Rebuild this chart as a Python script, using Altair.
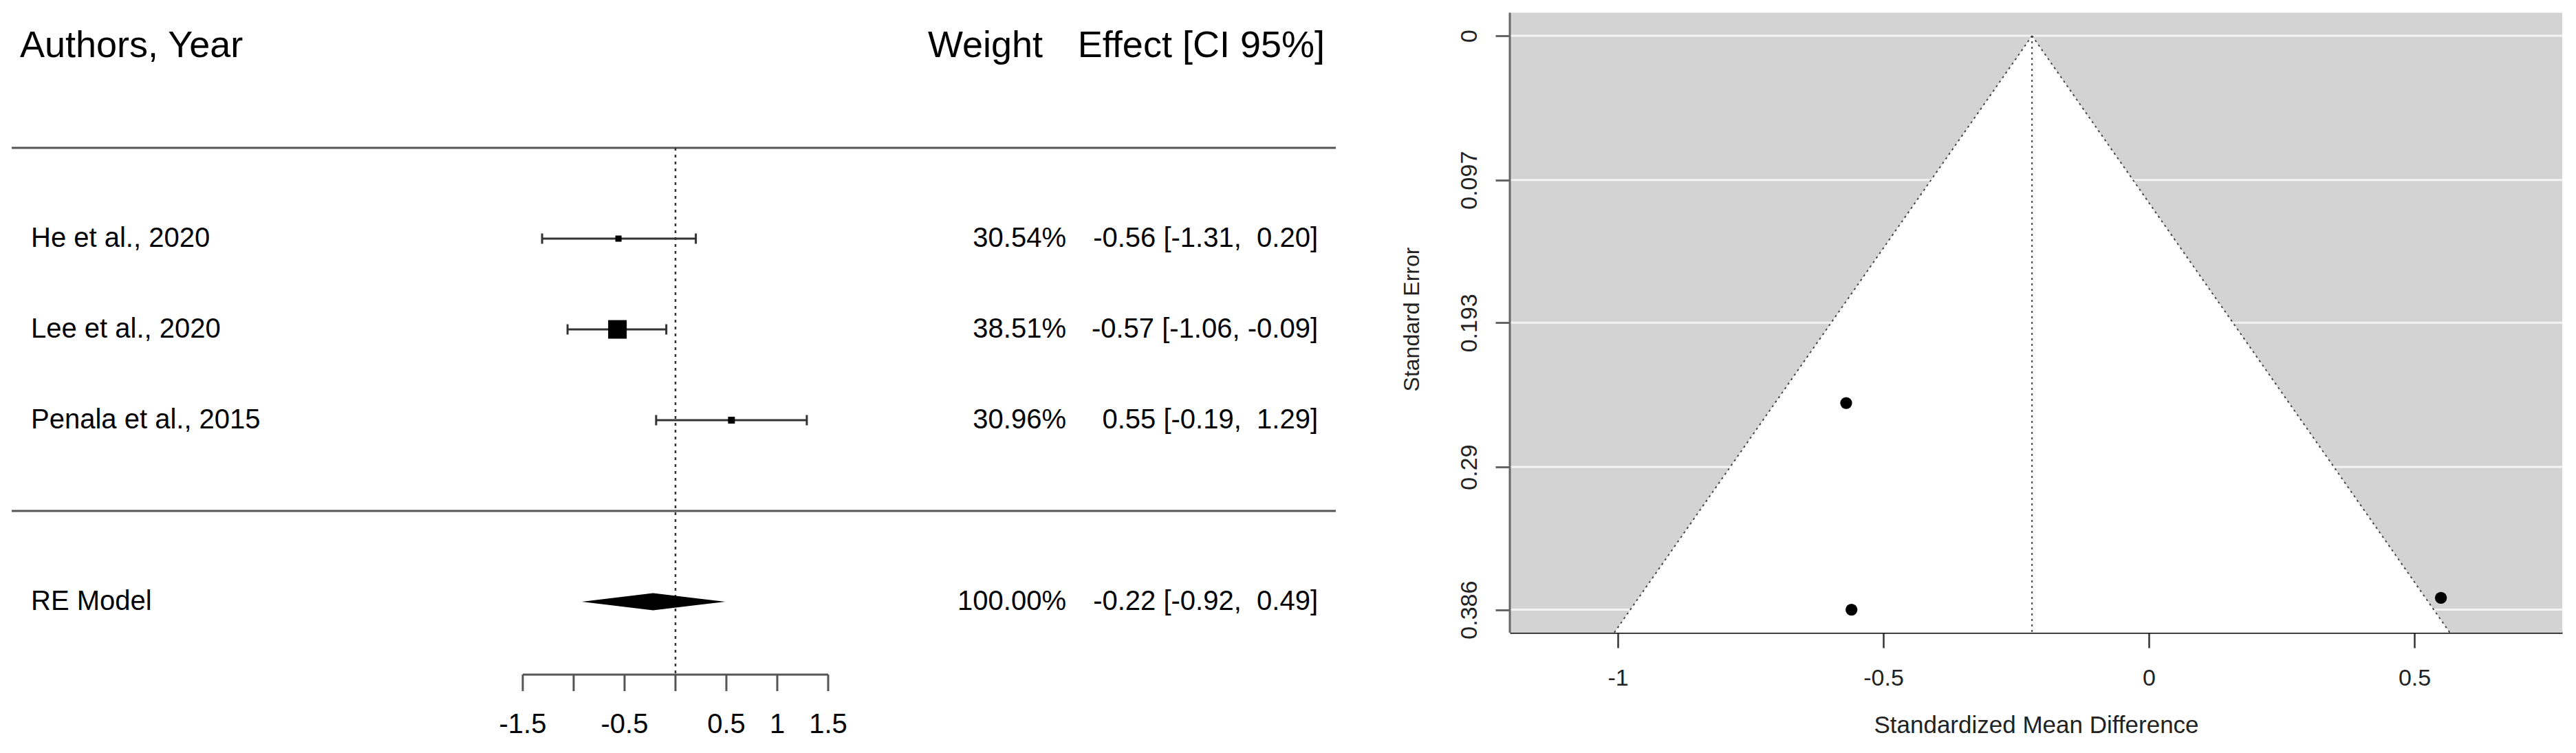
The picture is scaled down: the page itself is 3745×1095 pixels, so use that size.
import altair as alt
import pandas as pd

# ---------------- data ----------------
studies = ["He et al., 2020", "Lee et al., 2020", "Penala et al., 2015"]
effects = [-0.56, -0.57, 0.55]
ci_low = [-1.31, -1.06, -0.19]
ci_high = [0.20, -0.09, 1.29]
weights = [30.54, 38.51, 30.96]
std_errors = [0.386, 0.247, 0.378]

re_label = "RE Model"
re_est = -0.22
re_low = -0.92
re_high = 0.49
re_weight = 100.00

forest_ticks = [-1.5, -1, -0.5, 0, 0.5, 1, 1.5]
forest_tick_labels = ["-1.5", "", "-0.5", "", "0.5", "1", "1.5"]
funnel_x_ticks = [-1, -0.5, 0, 0.5]
funnel_se_ticks = [0, 0.097, 0.193, 0.29, 0.386]

FONT = "Liberation Sans"

# ---------------- forest plot geometry ----------------
ROW_PX = 132.0
X_PX = 148.0
F_W, F_H = 1925, 1075
row0_px = 735.0
zero_px = 965.0
f_ymax = row0_px / ROW_PX
f_ymin = (row0_px - F_H) / ROW_PX
f_xmin = -zero_px / X_PX
f_xmax = (F_W - zero_px) / X_PX
xs = alt.Scale(domain=[f_xmin, f_xmax], nice=False, zero=False)
ys = alt.Scale(domain=[f_ymin, f_ymax], nice=False, zero=False)

rows = [3, 2, 1]
re_row = -1
axis_row = (row0_px - 973.0) / ROW_PX


def fmt(v):
    return ("\u00a0" if v >= 0 else "") + f"{v:.2f}"


wmin, wmax = min(weights), max(weights)
study_df = pd.DataFrame({
    "label": studies,
    "est": effects,
    "lo": ci_low,
    "hi": ci_high,
    "row": rows,
    "wtxt": [f"{w:.2f}%" for w in weights],
    "etxt": [f"{fmt(e)} [{fmt(l)}, {fmt(h)}]" for e, l, h in zip(effects, ci_low, ci_high)],
    "area": [(18 * (0.5 + (w - wmin) / (wmax - wmin))) ** 2 for w in weights],
})
re_df = pd.DataFrame({
    "label": [re_label],
    "row": [re_row],
    "wtxt": [f"{re_weight:.2f}%"],
    "etxt": [f"{fmt(re_est)} [{fmt(re_low)}, {fmt(re_high)}]"],
})
dh = 12.5 / ROW_PX
diamond_df = pd.DataFrame({
    "x": [re_low, re_est, re_high],
    "y": [re_row, re_row + dh, re_row],
    "y2": [re_row, re_row - dh, re_row],
})
sep_df = pd.DataFrame({"row": [4, 0], "x1": [f_xmin] * 2, "x2": [f_xmax] * 2})
zero_df = pd.DataFrame({"x": [0], "y1": [4], "y2": [axis_row]})
axis_df = pd.DataFrame({"x1": [forest_ticks[0]], "x2": [forest_ticks[-1]], "y": [axis_row]})
tick_df = pd.DataFrame({
    "x": forest_ticks,
    "lab": forest_tick_labels,
    "y1": [axis_row] * len(forest_ticks),
    "y2": [axis_row - 24 / ROW_PX] * len(forest_ticks),
    "ylab": [axis_row - 73 / ROW_PX] * len(forest_ticks),
})
header_df = pd.DataFrame({"row": [5]})

X = lambda f: alt.X(f, scale=xs, axis=None)
Y = lambda f: alt.Y(f, scale=ys, axis=None)

sep = alt.Chart(sep_df).mark_rule(color="#555555", strokeWidth=3).encode(
    x=X("x1:Q"), x2="x2:Q", y=Y("row:Q"))
zero_line = alt.Chart(zero_df).mark_rule(color="#333333", strokeWidth=2.5, strokeDash=[4, 6]).encode(
    x=X("x:Q"), y=Y("y1:Q"), y2="y2:Q")
ci = alt.Chart(study_df).mark_rule(color="#333333", strokeWidth=3).encode(
    x=X("lo:Q"), x2="hi:Q", y=Y("row:Q"))
cap_lo = alt.Chart(study_df).mark_tick(orient="vertical", size=15, thickness=3, color="#333333", opacity=1).encode(
    x=X("lo:Q"), y=Y("row:Q"))
cap_hi = alt.Chart(study_df).mark_tick(orient="vertical", size=15, thickness=3, color="#333333", opacity=1).encode(
    x=X("hi:Q"), y=Y("row:Q"))
squares = alt.Chart(study_df).mark_square(color="black", filled=True, opacity=1).encode(
    x=X("est:Q"), y=Y("row:Q"), size=alt.Size("area:Q", scale=None, legend=None))
diamond = alt.Chart(diamond_df).mark_area(orient="vertical", color="black", opacity=1).encode(
    x=X("x:Q"), y=Y("y:Q"), y2="y2:Q")

lab_txt = alt.Chart(pd.concat([study_df[["label", "row"]], re_df[["label", "row"]]])).mark_text(
    align="left", baseline="middle", font=FONT, fontSize=40, color="black").encode(
    x=alt.value(28), y=Y("row:Q"), text="label:N")
w_txt = alt.Chart(pd.concat([study_df[["wtxt", "row"]], re_df[["wtxt", "row"]]])).mark_text(
    align="right", baseline="middle", font=FONT, fontSize=40, color="black").encode(
    x=alt.value(1533), y=Y("row:Q"), text="wtxt:N")
e_txt = alt.Chart(pd.concat([study_df[["etxt", "row"]], re_df[["etxt", "row"]]])).mark_text(
    align="right", baseline="middle", font=FONT, fontSize=40, color="black").encode(
    x=alt.value(1899), y=Y("row:Q"), text="etxt:N")
h1 = alt.Chart(header_df).mark_text(align="left", baseline="alphabetic", font=FONT, fontSize=54,
                                     color="black", text="Authors, Year").encode(
    x=alt.value(12), y=Y("row:Q"))
h2 = alt.Chart(header_df).mark_text(align="right", baseline="alphabetic", font=FONT, fontSize=54,
                                     color="black", text="Weight").encode(
    x=alt.value(1499), y=Y("row:Q"))
h3 = alt.Chart(header_df).mark_text(align="right", baseline="alphabetic", font=FONT, fontSize=54,
                                     color="black", text="Effect [CI 95%]").encode(
    x=alt.value(1909), y=Y("row:Q"))

f_axis = alt.Chart(axis_df).mark_rule(color="#555555", strokeWidth=3).encode(
    x=X("x1:Q"), x2="x2:Q", y=Y("y:Q"))
f_ticks = alt.Chart(tick_df).mark_rule(color="#555555", strokeWidth=3).encode(
    x=X("x:Q"), y=Y("y1:Q"), y2="y2:Q")
f_labels = alt.Chart(tick_df).mark_text(align="center", baseline="middle", font=FONT, fontSize=40,
                                        color="black").encode(
    x=X("x:Q"), y=Y("ylab:Q"), text="lab:N")

forest = alt.layer(sep, zero_line, ci, cap_lo, cap_hi, squares, diamond, lab_txt, w_txt, e_txt,
                   h1, h2, h3, f_axis, f_ticks, f_labels).properties(width=F_W, height=F_H)

# ---------------- funnel plot geometry ----------------
K = 2163.2
se_max = max(funnel_se_ticks)
se_top = -0.04 * se_max
se_bot = se_max * 1.04
fu_ytop = -(52 - 8) / K
FU_H = 912
FU_W = 1530
fu_xmin, fu_xmax = -1.2034, 0.7785
xsF = alt.Scale(domain=[fu_xmin, fu_xmax], nice=False, zero=False)
ysF = alt.Scale(domain=[fu_ytop, se_bot], nice=False, zero=False, reverse=True)

x_axis = alt.Axis(
    values=funnel_x_ticks, title="Standardized Mean Difference", labelExpr="toString(datum.value)",
    domainColor="#222222", domainWidth=2.5, tickColor="#333333", tickWidth=2.5, tickSize=22,
    labelPadding=27, labelFontSize=34, labelFont=FONT, labelColor="#222222",
    titleFont=FONT, titleFontSize=35, titleFontWeight="normal", titleColor="#222222",
    titlePadding=34, grid=False)
y_axis = alt.Axis(
    values=funnel_se_ticks, title="Standard Error", labelExpr="toString(datum.value)",
    domain=False, tickColor="#666666", tickWidth=3, tickSize=21,
    labelAngle=270, labelAlign="center", labelBaseline="bottom", labelPadding=21,
    labelFontSize=34, labelFont=FONT, labelColor="#222222",
    titleFont=FONT, titleFontSize=32, titleFontWeight="normal", titleColor="#222222",
    titlePadding=50, grid=False)

XF = lambda f: alt.X(f, scale=xsF, axis=x_axis)
YF = lambda f: alt.Y(f, scale=ysF, axis=y_axis)

bg_df = pd.DataFrame({"x1": [fu_xmin], "x2": [fu_xmax], "y1": [se_top], "y2": [se_bot]})
grid_df = pd.DataFrame({"se": funnel_se_ticks, "x1": [fu_xmin] * 5, "x2": [fu_xmax] * 5})
tri_df = pd.DataFrame({
    "se": [0, se_bot],
    "left": [re_est, re_est - 1.96 * se_bot],
    "right": [re_est, re_est + 1.96 * se_bot],
})
edge_df = pd.DataFrame({
    "x1": [re_est, re_est, re_est],
    "y1": [0, 0, 0],
    "x2": [re_est - 1.96 * se_bot, re_est + 1.96 * se_bot, re_est],
    "y2": [se_bot, se_bot, se_bot],
})
pts_df = pd.DataFrame({"yi": effects, "se": std_errors})
box_df = pd.DataFrame({"x": [fu_xmin], "y1": [se_top], "y2": [se_bot]})

bg = alt.Chart(bg_df).mark_rect(color="#d3d3d3").encode(
    x=XF("x1:Q"), x2="x2:Q", y=YF("y1:Q"), y2="y2:Q")
grid = alt.Chart(grid_df).mark_rule(color="#f4f4f4", strokeWidth=3).encode(
    x=XF("x1:Q"), x2="x2:Q", y=YF("se:Q"))
tri = alt.Chart(tri_df).mark_area(orient="horizontal", color="white", opacity=1).encode(
    y=YF("se:Q"), x=XF("left:Q"), x2="right:Q")
edges = alt.Chart(edge_df).mark_rule(color="#444444", strokeWidth=2, strokeDash=[3, 5]).encode(
    x=XF("x1:Q"), y=YF("y1:Q"), x2="x2:Q", y2="y2:Q")
pts = alt.Chart(pts_df).mark_circle(color="black", size=300, opacity=1).encode(
    x=XF("yi:Q"), y=YF("se:Q"))
box = alt.Chart(box_df).mark_rule(color="#666666", strokeWidth=3).encode(
    x=XF("x:Q"), y=YF("y1:Q"), y2="y2:Q")

funnel = alt.layer(bg, grid, tri, edges, pts, box).properties(width=FU_W, height=FU_H)

chart = alt.hconcat(forest, funnel, spacing=92).properties(
    padding={"left": 7, "top": 0, "right": 0, "bottom": 0}
).configure(font=FONT).configure_view(stroke=None)

chart.save("out.html", embed_options={"renderer": "svg", "actions": False})
